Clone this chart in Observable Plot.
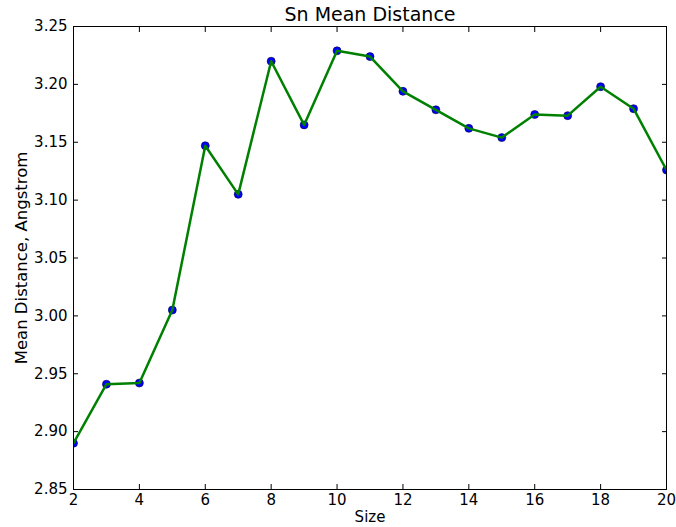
<!DOCTYPE html>
<html><head><meta charset="utf-8">
<script src="https://cdn.jsdelivr.net/npm/d3@7"></script>
<script src="https://cdn.jsdelivr.net/npm/@observablehq/plot@0.6"></script>
<style>html,body{margin:0;padding:0;background:#fff}</style>
</head><body><div id="chart"></div>
<script>
const sizes = [2, 3, 4, 5, 6, 7, 8, 9, 10, 11, 12, 13, 14, 15, 16, 17, 18, 19, 20];
const distances = [2.890, 2.941, 2.942, 3.005, 3.147, 3.105, 3.220, 3.165, 3.229, 3.224, 3.194, 3.178, 3.162, 3.154, 3.174, 3.173, 3.198, 3.179, 3.126];
const xTicks = [2, 4, 6, 8, 10, 12, 14, 16, 18, 20];
const yTicks = [2.85, 2.90, 2.95, 3.00, 3.05, 3.10, 3.15, 3.20, 3.25];
const title = "Sn Mean Distance";
const xLabel = "Size";
const yLabel = "Mean Distance, Angstrom";

const data = sizes.map((s, i) => ({size: s, dist: distances[i]}));

const plot = Plot.plot({
  width: 676,
  height: 527,
  marginLeft: 73,
  marginRight: 10,
  marginTop: 26,
  marginBottom: 38,
  style: {fontFamily: "'DejaVu Sans', sans-serif", fontSize: "15px", background: "#fff", color: "#000"},
  x: {domain: [2, 20]},
  y: {domain: [2.85, 3.25]},
  marks: [
    Plot.axisX({anchor: "bottom", ticks: xTicks, tickSize: -5, tickPadding: 9.5, tickFormat: d => String(d), label: null, stroke: "#000"}),
    Plot.axisX({anchor: "top", ticks: xTicks, tickSize: -5, tickFormat: () => "", label: null, stroke: "#000"}),
    Plot.axisY({anchor: "left", ticks: yTicks, tickSize: -5, tickPadding: 11, tickFormat: d3.format(".2f"), label: null, stroke: "#000"}),
    Plot.axisY({anchor: "right", ticks: yTicks, tickSize: -5, tickFormat: () => "", label: null, stroke: "#000"}),
    Plot.dot(data, {x: "size", y: "dist", r: 4, fill: "#0000ff", stroke: "#000040", strokeWidth: 0.6, clip: true}),
    Plot.line(data, {x: "size", y: "dist", stroke: "#008000", strokeWidth: 2.5, clip: true}),
    Plot.frame({stroke: "#000", strokeWidth: 1}),
    Plot.text([title], {frameAnchor: "top", lineAnchor: "middle", textAnchor: "middle", dy: -11.5, fontSize: 19, fill: "#000"}),
    Plot.text([xLabel], {frameAnchor: "bottom", lineAnchor: "middle", textAnchor: "middle", dy: 28, fontSize: 15, fill: "#000"}),
    Plot.text([yLabel], {frameAnchor: "left", lineAnchor: "middle", textAnchor: "middle", dx: -52, rotate: -90, fontSize: 16.5, fill: "#000"})
  ]
});
document.getElementById("chart").appendChild(plot);
</script>
</body></html>
